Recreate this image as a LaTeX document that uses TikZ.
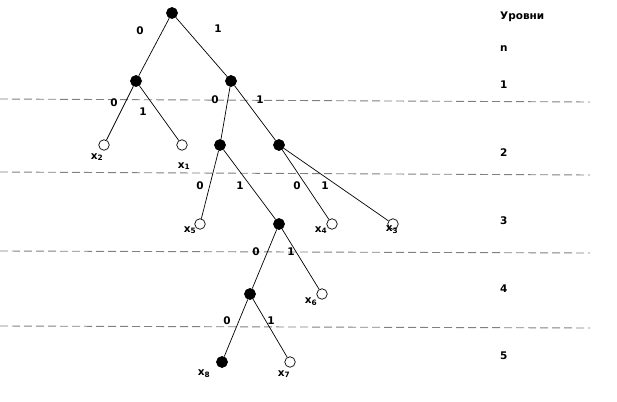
\documentclass[tikz,border=0pt]{standalone}
\usepackage{fontspec}
\setmainfont{DejaVu Sans}
\begin{document}
\begin{tikzpicture}[x=1pt,y=-1pt,
  full/.style={circle,draw=black,fill=black,minimum size=11pt,inner sep=0pt,line width=0.7pt},
  empty/.style={circle,draw=black,fill=white,minimum size=10.5pt,inner sep=0pt,line width=0.7pt},
  lbl/.style={font=\bfseries\fontsize{10.5}{12}\selectfont,inner sep=0pt},
  edge/.style={draw=black,line width=0.7pt},
  level/.style={draw=gray,line width=0.9pt,dash pattern=on 8pt off 4pt}]
\useasboundingbox (0,0) rectangle (617,401);
% level lines
\coordinate (l1a) at (0,99);   \coordinate (l1b) at (590,102);
\coordinate (l2a) at (0,172);  \coordinate (l2b) at (590,175);
\coordinate (l3a) at (0,251);  \coordinate (l3b) at (590,253);
\coordinate (l4a) at (0,326);  \coordinate (l4b) at (590,328);
\draw[level] (l1a) -- (l1b);
\draw[level] (l2a) -- (l2b);
\draw[level] (l3a) -- (l3b);
\draw[level] (l4a) -- (l4b);
% nodes
\node[full]  (r)  at (172,13) {};
\node[full]  (a)  at (136,81) {};
\node[full]  (b)  at (231,81) {};
\node[empty] (x2) at (104,145) {};
\node[empty] (x1) at (182,145) {};
\node[full]  (c)  at (220,145) {};
\node[full]  (d)  at (279,145) {};
\node[empty] (x5) at (200,224) {};
\node[full]  (e)  at (279,224) {};
\node[empty] (x4) at (332,224) {};
\node[empty] (x3) at (393,224) {};
\node[full]  (f)  at (250,294) {};
\node[empty] (x6) at (322,294) {};
\node[full]  (x8) at (222,362) {};
\node[empty] (x7) at (290,362) {};
% edges
\draw[edge] (r) -- (a);
\draw[edge] (r) -- (b);
\draw[edge] (a) -- (x2);
\draw[edge] (a) -- (x1);
\draw[edge] (b) -- (c);
\draw[edge] (b) -- (d);
\draw[edge] (c) -- (x5);
\draw[edge] (c) -- (e);
\draw[edge] (d) -- (x4);
\draw[edge] (d) -- (x3);
\draw[edge] (e) -- (f);
\draw[edge] (e) -- (x6);
\draw[edge] (f) -- (x8);
\draw[edge] (f) -- (x7);
% edge labels
\node[lbl] (e1) at (140,31) {0};
\node[lbl] (e2) at (218,29) {1};
\node[lbl] (e3) at (114,103) {0};
\node[lbl] (e4) at (143,112) {1};
\node[lbl] (e5) at (215,100) {0};
\node[lbl] (e6) at (260,100) {1};
\node[lbl] (e7) at (200,186) {0};
\node[lbl] (e8) at (240,186) {1};
\node[lbl] (e9) at (297,186) {0};
\node[lbl] (e10) at (325,186) {1};
\node[lbl] (e11) at (256,252) {0};
\node[lbl] (e12) at (291,252) {1};
\node[lbl] (e13) at (227,321) {0};
\node[lbl] (e14) at (271,321) {1};
% leaf labels
\node[lbl] (t2) at (97,157) {x\textsubscript{2}};
\node[lbl] (t1) at (184,166) {x\textsubscript{1}};
\node[lbl] (t5) at (190,230) {x\textsubscript{5}};
\node[lbl] (t4) at (321,230) {x\textsubscript{4}};
\node[lbl] (t3) at (392,230) {x\textsubscript{3}};
\node[lbl] (t6) at (311,302) {x\textsubscript{6}};
\node[lbl] (t8) at (204,374) {x\textsubscript{8}};
\node[lbl] (t7) at (284,374) {x\textsubscript{7}};
% level labels
\node[lbl,anchor=west] (h1) at (500,17) {Уровни};
\node[lbl,anchor=west] (h2) at (500,49) {n};
\node[lbl,anchor=west] (n1) at (500,85) {1};
\node[lbl,anchor=west] (n2) at (500,153) {2};
\node[lbl,anchor=west] (n3) at (500,221) {3};
\node[lbl,anchor=west] (n4) at (500,289) {4};
\node[lbl,anchor=west] (n5) at (500,356) {5};
\end{tikzpicture}
\end{document}
